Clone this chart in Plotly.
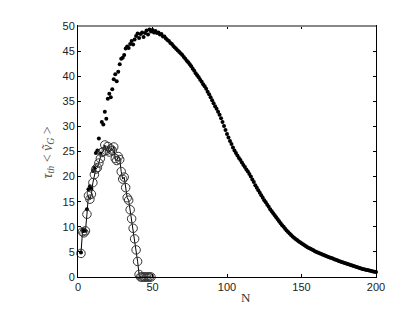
import plotly.graph_objects as go

# Filled dots: N = 2..200
N_filled = list(range(2, 201))
v_filled = [
    4.9, 9.4, 9.3, 9.2, 13.5, 17.5, 18.1, 17.6, 21.1,            # 2-10
    21.7, 24.7, 25.2, 27.6, 24.6, 30.9, 30.4, 32.9, 31.5, 35.5,  # 11-20
    36.5, 35.8, 37.4, 39.4, 40.4, 39.0, 40.9, 42.4, 43.5, 43.7,  # 21-30
    44.2, 45.5, 45.9, 45.6, 46.4, 47.0, 46.3, 47.3, 48.0, 48.5,  # 31-40
    47.6, 48.4, 48.7, 47.8, 48.6, 49.1, 48.3, 49.3, 48.9, 49.2,  # 41-50
    48.7, 49.0, 48.6, 48.7, 48.3, 48.4, 47.9, 47.9, 47.5, 47.2,  # 51-60
    47.0, 46.6, 46.4, 46.0, 45.7, 45.4, 45.1, 44.8, 44.5, 44.2,  # 61-70
    43.8, 43.5, 43.1, 42.8, 42.4, 42.0, 41.5, 41.1, 40.6, 40.2,  # 71-80
    39.8, 39.3, 38.9, 38.4, 38.0, 37.5, 36.9, 36.4, 35.8, 35.2,  # 81-90
    34.6, 34.0, 33.5, 32.9, 32.3, 31.6, 30.9, 30.1, 29.3, 28.5,  # 91-100
    27.8, 27.1, 26.5, 25.8, 25.2, 24.7, 24.2, 23.7, 23.3, 22.8,  # 101-110
    22.3, 21.9, 21.4, 21.0, 20.5, 20.0, 19.4, 18.9, 18.3, 17.8,  # 111-120
    17.3, 16.8, 16.3, 15.8, 15.3, 14.9, 14.4, 14.0, 13.5, 13.1,  # 121-130
    12.7, 12.3, 11.9, 11.5, 11.1, 10.7, 10.3, 10.0, 9.6, 9.25,   # 131-140
    8.95, 8.65, 8.35, 8.05, 7.8, 7.55, 7.35, 7.1, 6.9, 6.7,      # 141-150
    6.5, 6.3, 6.15, 5.95, 5.8, 5.65, 5.5, 5.35, 5.15, 5.0,       # 151-160
    4.9, 4.75, 4.65, 4.5, 4.4, 4.25, 4.15, 4.0, 3.9, 3.8,        # 161-170
    3.7, 3.55, 3.45, 3.35, 3.2, 3.1, 3.0, 2.9, 2.8, 2.7,         # 171-180
    2.6, 2.5, 2.4, 2.3, 2.2, 2.1, 2.0, 1.9, 1.8, 1.7,            # 181-190
    1.6, 1.55, 1.45, 1.4, 1.35, 1.25, 1.2, 1.1, 1.05, 1.0,       # 191-200
]

# Open circles: N = 2..49
N_open = list(range(2, 50))
v_open = [
    4.7, 9.0, 8.8, 9.2, 12.5, 16.2, 15.5, 16.5, 18.8,            # 2-10
    20.4, 21.5, 21.8, 22.7, 23.6, 24.8, 25.0, 26.3, 25.2, 26.0,  # 11-20
    24.9, 25.5, 25.2, 25.9, 23.6, 23.2, 24.0, 23.4, 21.0, 19.5,  # 21-30
    19.9, 17.8, 15.8, 15.3, 13.4, 11.6, 9.7, 7.6, 5.4, 3.1,      # 31-40
    0.5, 0.0, 0.0, 0.0, 0.0, 0.0, 0.0, 0.0, 0.0,                 # 41-49
]

x_ticks = [0, 50, 100, 150, 200]
y_ticks = [0, 5, 10, 15, 20, 25, 30, 35, 40, 45, 50]

fig = go.Figure()
fig.add_trace(go.Scatter(
    x=N_filled, y=v_filled, mode="markers",
    marker=dict(symbol="circle", size=4, color="black"),
    showlegend=False, cliponaxis=False,
))
fig.add_trace(go.Scatter(
    x=N_open, y=v_open, mode="lines+markers",
    line=dict(color="black", width=1),
    marker=dict(symbol="circle-open", size=8.5, color="#333333", line=dict(width=1)),
    showlegend=False, cliponaxis=False,
))

axis_common = dict(
    showgrid=False, zeroline=False, showline=True, linecolor="black", linewidth=1,
    ticks="inside", ticklen=3, tickcolor="black", mirror="ticks",
    tickfont=dict(family="Liberation Sans, Arial", size=11, color="#222222"),
)
fig.update_xaxes(range=[0, 200], tickvals=x_ticks, **axis_common)
fig.update_yaxes(range=[0, 50], tickvals=y_ticks, **axis_common)

fig.add_shape(type="line", xref="paper", yref="paper", x0=0, x1=1, y0=1, y1=1,
              line=dict(color="#888888", width=2), layer="above")

fig.add_annotation(
    text="<i>τ<sub>th</sub></i> < <i>ṽ<sub>G</sub></i> >",
    xref="paper", yref="paper", x=(48 - 78) / 298, y=(277 - 151) / 254,
    xanchor="center", yanchor="middle",
    textangle=-90, showarrow=False,
    font=dict(family="Liberation Serif, Times New Roman", size=14, color="#555555"),
)
fig.add_annotation(
    text="N", xref="paper", yref="paper", x=(246 - 78) / 298, y=(277 - 298) / 254,
    xanchor="center", yanchor="middle",
    showarrow=False,
    font=dict(family="Liberation Serif, Times New Roman", size=13, color="#333333"),
)

# page body has an 8px default margin, so the figure is shrunk by 8px
fig.update_layout(
    width=407, height=305,
    margin=dict(l=70, r=39, t=15, b=36),
    paper_bgcolor="white", plot_bgcolor="white",
)
fig.write_html("out.html")
